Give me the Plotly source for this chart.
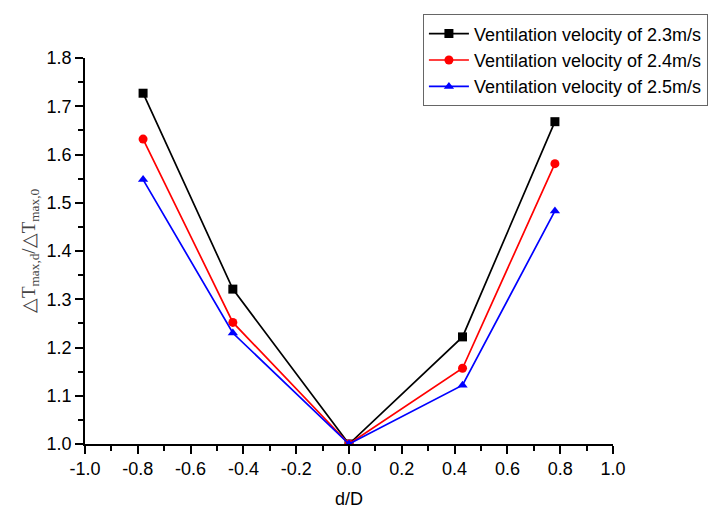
import plotly.graph_objects as go

x_vals = [-0.78, -0.44, 0.0, 0.43, 0.78]
v23 = [1.727, 1.321, 1.0, 1.222, 1.668]
v24 = [1.632, 1.252, 1.0, 1.157, 1.581]
v25 = [1.548, 1.230, 1.0, 1.122, 1.483]
names = ["Ventilation velocity of 2.3m/s", "Ventilation velocity of 2.4m/s", "Ventilation velocity of 2.5m/s"]
colors = ["black", "red", "blue"]
symbols = ["square", "circle", "triangle-up"]
x_tickvals = [-1.0, -0.8, -0.6, -0.4, -0.2, 0.0, 0.2, 0.4, 0.6, 0.8, 1.0]
x_ticktext = ["-1.0", "-0.8", "-0.6", "-0.4", "-0.2", "0.0", "0.2", "0.4", "0.6", "0.8", "1.0"]

fig = go.Figure()
for ys, nm, c, s in zip([v23, v24, v25], names, colors, symbols):
    fig.add_trace(go.Scatter(x=x_vals, y=ys, name=nm, mode="lines+markers",
                             line=dict(color=c, width=1.7),
                             marker=dict(color=c, symbol=s, size=9)))

tickfont = dict(family="Liberation Sans, Arial", size=18, color="black")
axis_common = dict(showline=True, linecolor="black", linewidth=1.5, ticks="outside",
                   ticklen=8, tickwidth=1.5, tickcolor="black", showgrid=False, zeroline=False,
                   tickfont=tickfont)
fig.update_xaxes(range=[-1.0, 1.0], tickmode="array", tickvals=x_tickvals, ticktext=x_ticktext,
                 minor=dict(ticks="outside", dtick=0.1, tick0=-1.0, ticklen=5, tickwidth=1.5, tickcolor="black"),
                 title=dict(text="d/D", font=tickfont, standoff=14),
                 **axis_common)
fig.update_yaxes(range=[1.0, 1.8], dtick=0.1, tick0=1.0, tickformat=".1f",
                 minor=dict(ticks="outside", dtick=0.05, ticklen=5, tickwidth=1.5, tickcolor="black"),
                 title=dict(text="△T<sub>max,d</sub>/△T<sub>max,0</sub>",
                            font=dict(family="Liberation Serif, Times New Roman", size=19, color="#444444"), standoff=6),
                 **axis_common)
fig.update_layout(width=720, height=518, margin=dict(l=85, r=101, t=58, b=63),
                  plot_bgcolor="white", paper_bgcolor="white",
                  legend=dict(x=0.640, y=1.113, xanchor="left", yanchor="top",
                              bordercolor="#666666", borderwidth=1, bgcolor="white",
                              font=dict(family="Liberation Sans, Arial", size=18, color="black"),
                              tracegroupgap=0, itemwidth=40))
fig.write_html("out.html")
